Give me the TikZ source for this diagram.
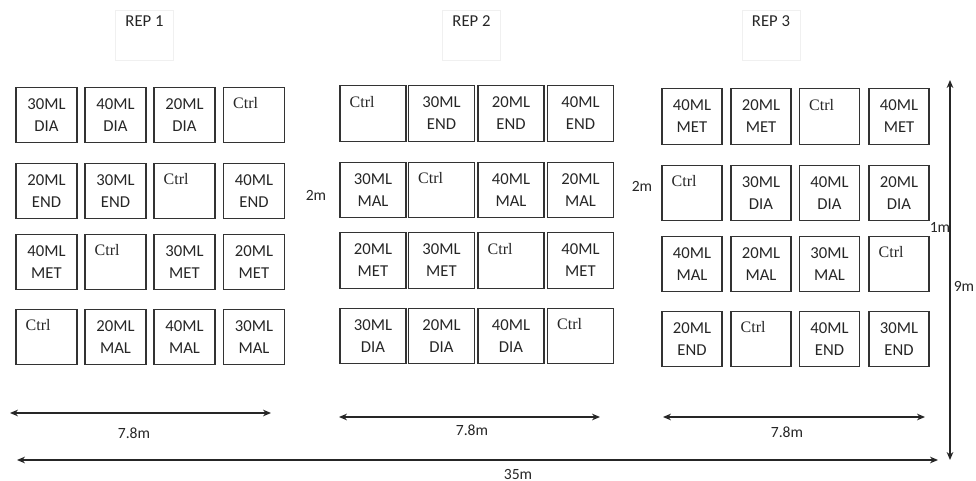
\documentclass[tikz,border=0pt]{standalone}
\usepackage{fontspec}
\usetikzlibrary{arrows.meta}
\newfontfamily\calib{Carlito}
\newfontfamily\tnr{Liberation Serif}
\newcommand\plotfont{\calib\fontsize{12.5pt}{16.5pt}\selectfont}
\newcommand\dimfont{\calib\fontsize{11.7pt}{14pt}\selectfont}

\begin{document}
\begin{tikzpicture}[x=0.75pt, y=-0.75pt, font=\plotfont, black!85,
  plot/.style={draw=black!80, line width=0.85pt, minimum width=#1,
               minimum height=41.5pt, align=center, inner sep=0pt},
  plot/.default=45.75pt,
  ctrl/.style={plot=#1, label={[ctrllab]north west:Ctrl}},
  ctrl/.default=45.75pt,
  ctrllab/.style={anchor=north west, inner sep=0pt, xshift=7.5pt,
                  yshift=-8pt, font=\tnr\fontsize{12pt}{14pt}\selectfont},
  repbox/.style={draw=gray!12, line width=0.5pt, minimum width=43.5pt,
                 minimum height=37.5pt, inner sep=0pt},
  replab/.style={anchor=north, inner sep=0pt, yshift=-4.5pt},
  dim/.style={<->, >={Stealth[length=6pt, width=5pt]}, line width=0.9pt,
              black!85},
  dimlab/.style={font=\dimfont, inner sep=0pt}
]
  \useasboundingbox (0,0) rectangle (976,481);

  % block headings
  \node[repbox, label={[replab]north:REP 1}] (rep1) at (144.5,35) {};
  \node[repbox, label={[replab]north:REP 2}] (rep2) at (471.5,35) {};
  \node[repbox, label={[replab]north:REP 3}] (rep3) at (771,35) {};

  % REP 1
  \node[plot] (a11) at ( 46.5,115) {30ML\\DIA};
  \node[plot] (a12) at (115.5,115) {40ML\\DIA};
  \node[plot] (a13) at (184.5,115) {20ML\\DIA};
  \node[ctrl] (a14) at (254,  115) {};
  \node[plot] (a21) at ( 46.5,191) {20ML\\END};
  \node[plot] (a22) at (115.5,191) {30ML\\END};
  \node[ctrl] (a23) at (184.5,191) {};
  \node[plot] (a24) at (254,  191) {40ML\\END};
  \node[plot] (a31) at ( 46.5,262) {40ML\\MET};
  \node[ctrl] (a32) at (115.5,262) {};
  \node[plot] (a33) at (184.5,262) {30ML\\MET};
  \node[plot] (a34) at (254,  262) {20ML\\MET};
  \node[ctrl] (a41) at ( 46.5,337) {};
  \node[plot] (a42) at (115.5,337) {20ML\\MAL};
  \node[plot] (a43) at (184.5,337) {40ML\\MAL};
  \node[plot] (a44) at (254,  337) {30ML\\MAL};

  % REP 2
  \node[ctrl=49.5pt] (b11) at (373,  113.5) {};
  \node[plot=49.5pt] (b12) at (441.5,113.5) {30ML\\END};
  \node[plot=49.5pt] (b13) at (511,  113.5) {20ML\\END};
  \node[plot=49.5pt] (b14) at (580.5,113.5) {40ML\\END};
  \node[plot=49.5pt] (b21) at (373,  190) {30ML\\MAL};
  \node[ctrl=49.5pt] (b22) at (441.5,190) {};
  \node[plot=49.5pt] (b23) at (511,  190) {40ML\\MAL};
  \node[plot=49.5pt] (b24) at (580.5,190) {20ML\\MAL};
  \node[plot=49.5pt] (b31) at (373,  260.5) {20ML\\MET};
  \node[plot=49.5pt] (b32) at (441.5,260.5) {30ML\\MET};
  \node[ctrl=49.5pt] (b33) at (511,  260.5) {};
  \node[plot=49.5pt] (b34) at (580.5,260.5) {40ML\\MET};
  \node[plot=49.5pt] (b41) at (373,  336) {30ML\\DIA};
  \node[plot=49.5pt] (b42) at (441.5,336) {20ML\\DIA};
  \node[plot=49.5pt] (b43) at (511,  336) {40ML\\DIA};
  \node[ctrl=49.5pt] (b44) at (580.5,336) {};

  % REP 3
  \node[plot=45pt] (c11) at (692,  116.5) {40ML\\MET};
  \node[plot=45pt] (c12) at (761,  116.5) {20ML\\MET};
  \node[ctrl=45pt] (c13) at (829.5,116.5) {};
  \node[plot=45pt] (c14) at (899,  116.5) {40ML\\MET};
  \node[ctrl=45pt] (c21) at (692,  193) {};
  \node[plot=45pt] (c22) at (761,  193) {30ML\\DIA};
  \node[plot=45pt] (c23) at (829.5,193) {40ML\\DIA};
  \node[plot=45pt] (c24) at (899,  193) {20ML\\DIA};
  \node[plot=45pt] (c31) at (692,  264) {40ML\\MAL};
  \node[plot=45pt] (c32) at (761,  264) {20ML\\MAL};
  \node[plot=45pt] (c33) at (829.5,264) {30ML\\MAL};
  \node[ctrl=45pt] (c34) at (899,  264) {};
  \node[plot=45pt] (c41) at (692,  339) {20ML\\END};
  \node[ctrl=45pt] (c42) at (761,  339) {};
  \node[plot=45pt] (c43) at (829.5,339) {40ML\\END};
  \node[plot=45pt] (c44) at (899,  339) {30ML\\END};

  % spacing labels
  \node[dimlab] (gap12) at (316,195) {2m};
  \node[dimlab] (gap23) at (642,186) {2m};

  % dimension lines
  \coordinate (w1l) at (10,413);  \coordinate (w1r) at (271,413);
  \coordinate (w2l) at (339,417); \coordinate (w2r) at (600,417);
  \coordinate (w3l) at (663,417); \coordinate (w3r) at (925,417);
  \coordinate (totl) at (17,460); \coordinate (totr) at (938,460);
  \coordinate (htop) at (950,80); \coordinate (hbot) at (950,460);
  \draw[dim] (w1l) -- (w1r);
  \draw[dim] (w2l) -- (w2r);
  \draw[dim] (w3l) -- (w3r);
  \draw[dim] (totl) -- (totr);
  \draw[dim] (htop) -- (hbot);
  \node[dimlab] (len1) at (134,433) {7.8m};
  \node[dimlab] (len2) at (472,430) {7.8m};
  \node[dimlab] (len3) at (787,432) {7.8m};
  \node[dimlab] (lentot) at (518,474) {35m};
  \node[dimlab] (gaprow) at (940,227) {1m};
  \node[dimlab] (height) at (964,286) {9m};
\end{tikzpicture}
\end{document}
